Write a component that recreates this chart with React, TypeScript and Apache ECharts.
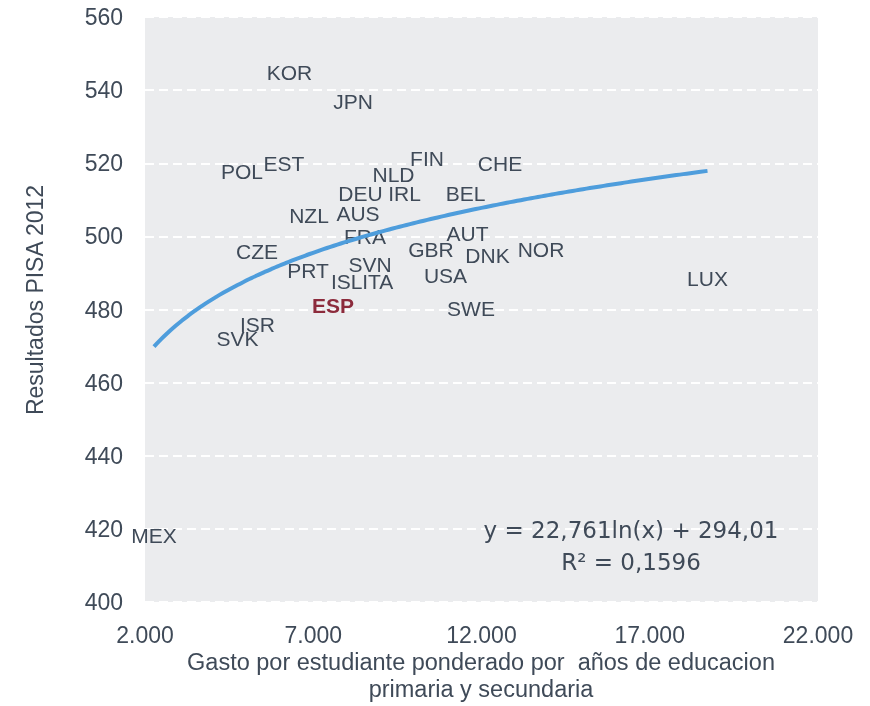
import React, { useEffect, useRef } from 'react';
import * as echarts from 'echarts';

// Country codes (OECD), spending per student and PISA 2012 score
const countries = ['KOR', 'JPN', 'POL', 'EST', 'FIN', 'NLD', 'DEU', 'IRL', 'NZL', 'AUS', 'FRA', 'CZE', 'PRT', 'SVN', 'ISL', 'ITA', 'ESP', 'ISR', 'SVK', 'GBR', 'AUT', 'DNK', 'NOR', 'USA', 'SWE', 'LUX', 'CHE', 'BEL', 'MEX'];
const spending = [6294, 8181, 4883, 6131, 10380, 9385, 8404, 9712, 6874, 8330, 8538, 5328, 6844, 8687, 7997, 8915, 7587, 5343, 4749, 10499, 11584, 12178, 13768, 10930, 11688, 18716, 12550, 11525, 2267];
const pisa = [544.9, 536.8, 517.7, 520.0, 521.2, 516.8, 511.6, 511.6, 505.8, 506.3, 499.9, 495.8, 490.8, 492.2, 487.6, 487.6, 481.2, 475.8, 472.1, 496.3, 500.8, 494.9, 496.3, 489.4, 480.3, 488.5, 520.0, 511.8, 418.3];
const highlight = 'ESP';

// Axis ticks
const xTicks = [2000, 7000, 12000, 17000, 22000];
const yTicks = [400, 420, 440, 460, 480, 500, 520, 540, 560];

// Logarithmic trendline shown in the chart: y = a ln(x) + b
const trendA = 22.761;
const trendB = 294.01;
const equationText = 'y = 22,761ln(x) + 294,01';
const r2Text = 'R² = 0,1596';

const yTitle = 'Resultados PISA 2012';
const xTitle = 'Gasto por estudiante ponderado por  años de educacion\nprimaria y secundaria';

const TEXT = '#3F4A58';
const FONT = 'Liberation Sans, Arial, sans-serif';

function fmtThousands(v: number): string {
  return String(Math.round(v)).replace(/\B(?=(\d{3})+(?!\d))/g, '.');
}

export default function App() {
  const ref = useRef<HTMLDivElement>(null);

  useEffect(() => {
    if (!ref.current) return;
    const chart = echarts.init(ref.current, null, { renderer: 'svg' });

    const xMin = Math.min(...spending);
    const xMax = Math.max(...spending);
    const steps = 80;
    const trend: number[][] = [];
    for (let i = 0; i <= steps; i++) {
      const x = xMin + ((xMax - xMin) * i) / steps;
      trend.push([x, trendA * Math.log(x) + trendB]);
    }

    const points = countries.map((c, i) => ({
      name: c,
      value: [spending[i], pisa[i]],
      label:
        c === highlight
          ? { fontWeight: 'bold' as const, color: '#8C2B3C' }
          : undefined,
    }));

    chart.setOption({
      animation: false,
      grid: {
        left: 145,
        right: 52,
        top: 17,
        bottom: 104,
        show: true,
        backgroundColor: '#EBECEE',
        borderWidth: 0,
        containLabel: false,
        outerBoundsMode: 'none',
      },
      xAxis: {
        type: 'value',
        min: xTicks[0],
        max: xTicks[xTicks.length - 1],
        interval: xTicks[1] - xTicks[0],
        axisLine: { show: false },
        axisTick: { show: false },
        splitLine: { show: false },
        axisLabel: {
          margin: 21,
          fontSize: 23,
          fontFamily: FONT,
          color: TEXT,
          formatter: (v: number) => fmtThousands(v),
        },
      },
      yAxis: {
        type: 'value',
        min: yTicks[0],
        max: yTicks[yTicks.length - 1],
        interval: yTicks[1] - yTicks[0],
        axisLine: { show: false },
        axisTick: { show: false },
        splitLine: {
          show: true,
          lineStyle: { color: '#FFFFFF', width: 2, type: [9, 5] },
        },
        axisLabel: {
          margin: 22,
          fontSize: 23,
          fontFamily: FONT,
          color: TEXT,
        },
      },
      series: [
        {
          type: 'scatter',
          z: 2,
          silent: true,
          symbolSize: 1,
          itemStyle: { color: 'rgba(0,0,0,0)', opacity: 1 },
          label: {
            show: true,
            position: 'inside',
            formatter: '{b}',
            fontSize: 21,
            fontFamily: FONT,
            color: TEXT,
          },
          data: points,
        },
        {
          type: 'line',
          z: 5,
          silent: true,
          showSymbol: false,
          smooth: true,
          lineStyle: { color: '#4E9DDC', width: 4 },
          data: trend,
        },
      ],
      graphic: [
        {
          type: 'text',
          x: 631,
          y: 530,
          z: 100,
          silent: true,
          style: {
            text: equationText,
            fill: TEXT,
            fontSize: 23,
            fontFamily: 'DejaVu Sans, sans-serif',
            align: 'center',
            verticalAlign: 'middle',
          },
        },
        {
          type: 'text',
          x: 631,
          y: 562,
          z: 100,
          silent: true,
          style: {
            text: r2Text,
            fill: TEXT,
            fontSize: 23,
            fontFamily: 'DejaVu Sans, sans-serif',
            align: 'center',
            verticalAlign: 'middle',
          },
        },
        {
          type: 'text',
          x: 35,
          y: 300,
          z: 100,
          rotation: Math.PI / 2,
          silent: true,
          style: {
            text: yTitle,
            fill: TEXT,
            fontSize: 23,
            fontFamily: FONT,
            align: 'center',
            verticalAlign: 'middle',
          },
        },
        {
          type: 'text',
          x: 481,
          y: 675,
          z: 100,
          silent: true,
          style: {
            text: xTitle,
            fill: TEXT,
            fontSize: 23.5,
            lineHeight: 27,
            fontFamily: FONT,
            align: 'center',
            verticalAlign: 'middle',
          },
        },
      ],
    });

    return () => {
      chart.dispose();
    };
  }, []);

  return (
    <div
      ref={ref}
      style={{ position: 'fixed', left: 0, top: 0, width: 870, height: 706 }}
    />
  );
}
